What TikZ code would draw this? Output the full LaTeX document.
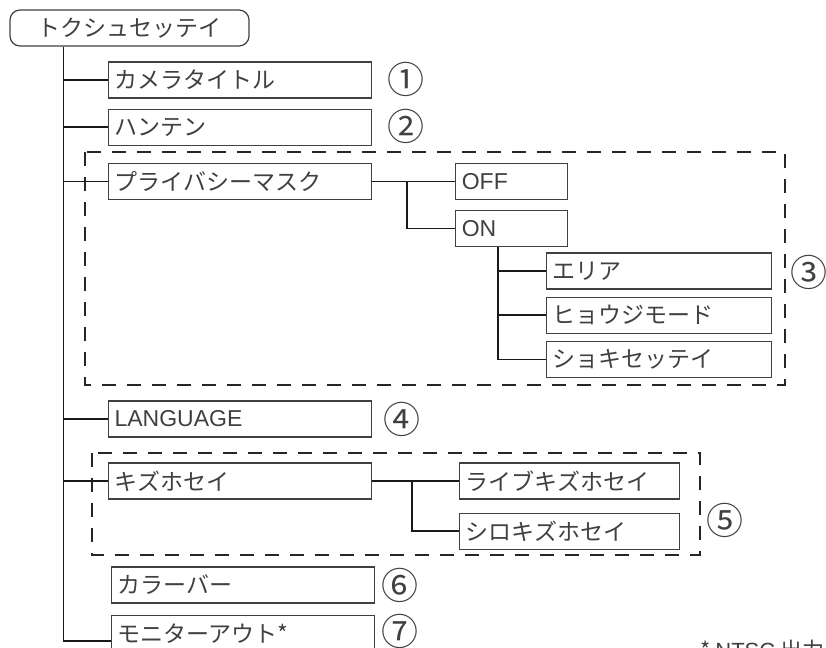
\documentclass[tikz,border=0pt]{standalone}
\usepackage{fontspec}
\setmainfont{Noto Sans CJK JP}
\newfontfamily\latinfont{Liberation Sans}
\usepackage{tikz}
\usetikzlibrary{positioning,calc}
\tikzset{
	x=1pt,y=-1pt,thick,% one unit is one pixel of the layout, y runs down
	base/.style={draw=black!75, line width=1.2pt, text=black!75, font=\fontsize{23}{27}\selectfont, minimum height=36pt, inner xsep=6pt, align=left},
	num/.style={text=black!75, font=\fontsize{37}{40}\selectfont, inner sep=0pt, text height=28pt, text depth=0pt}
}
\newcommand{\circnum}[1]{\makebox[24pt]{#1}}
\begin{document}
\begin{tikzpicture}
            \tikzset{my box/.style = {base, text width=251pt}}
            \tikzset{opt box/.style = {base, text width=100pt}}
            \tikzset{sub box/.style = {base, text width=213pt}}
            \tikzset{kizu box/.style = {base, text width=208pt}}
            \tikzset{my edge/.style = {-, line width=1.6pt, black!90}}
            \tikzset{group/.style = {black!85, line width=2.6pt, dash pattern=on 14pt off 11pt}}
            \useasboundingbox (0,0) rectangle (826,647);
            \clip (0,0) rectangle (826,647);
            % menu column
            \node[base, rounded corners=10pt, minimum width=239pt, align=center] (0) at (129.5,28) {トクシュセッテイ};
            \node[my box, anchor=west] (1) at (108,80) {カメラタイトル};
            \node[my box] (2) [below=10pt of 1] {ハンテン};
            \node[my box] (3) [below=17pt of 2] {プライバシーマスク};
            \node[opt box] (4) [right=83pt of 3] {\latinfont OFF};
            \node[opt box] (5) [below=10pt of 4] {\latinfont ON};
            \node[sub box, anchor=west] (6) at (546,271) {エリア};
            \node[sub box] (7) [below=7pt of 6] {ヒョウジモード};
            \node[sub box] (8) [below=7pt of 7] {ショキセッテイ};
            \node[my box, anchor=west] (9) at (108,419) {\latinfont LANGUAGE};
            \node[my box, anchor=west] (10) at (108,481) {キズホセイ};
            \node[kizu box] (11) [right=87pt of 10] {ライブキズホセイ};
            \node[kizu box] (12) [below=13pt of 11] {シロキズホセイ};
            \node[my box, anchor=west] (13) at (111,585) {カラーバー};
            \node[my box] (14) [below=11pt of 13] {モニターアウト*};
            % circled numbers
            \node[num] (n1) at (406,80) {\circnum{①}};
            \node[num] (n2) at (406,127) {\circnum{②}};
            \node[num] (n3) at (809,272) {\circnum{③}};
            \node[num] (n4) at (402,419) {\circnum{④}};
            \node[num] (n5) at (725,520) {\circnum{⑤}};
            \node[num] (n6) at (400,585) {\circnum{⑥}};
            \node[num] (n7) at (400,631) {\circnum{⑦}};
            \node[anchor=base west, text=black!75, font=\fontsize{22}{26}\selectfont, inner sep=0pt] (15) at (700,658) {* {\latinfont NTSC} 出力};
            % dashed groups
            \draw[group] (85,152) rectangle (785,385);
            \draw[group] (92,453) rectangle (700,555);
            % connectors
            \coordinate (t) at ([xshift=54pt]0.south west);
            \draw[my edge] (t) |- ([yshift=-8pt]14.west);
            \draw[my edge] (1.west) -- (1.west -| t);
            \draw[my edge] (2.west) -- (2.west -| t);
            \draw[my edge] (3.west) -- (3.west -| t);
            \draw[my edge] (9.west) -- (9.west -| t);
            \draw[my edge] (10.west) -- (10.west -| t);
            \draw[my edge] (3) -- (4);
            \draw[my edge] ($(3.east)+(35,0)$) |- (5.west);
            \coordinate (s) at ([xshift=43pt]5.south west);
            \draw[my edge] (s) |- (8.west);
            \draw[my edge] (6.west) -- (6.west -| s);
            \draw[my edge] (7.west) -- (7.west -| s);
            \draw[my edge] (10) -- (11);
            \draw[my edge] ($(10.east)+(40,0)$) |- (12.west);
        \end{tikzpicture}
\end{document}
